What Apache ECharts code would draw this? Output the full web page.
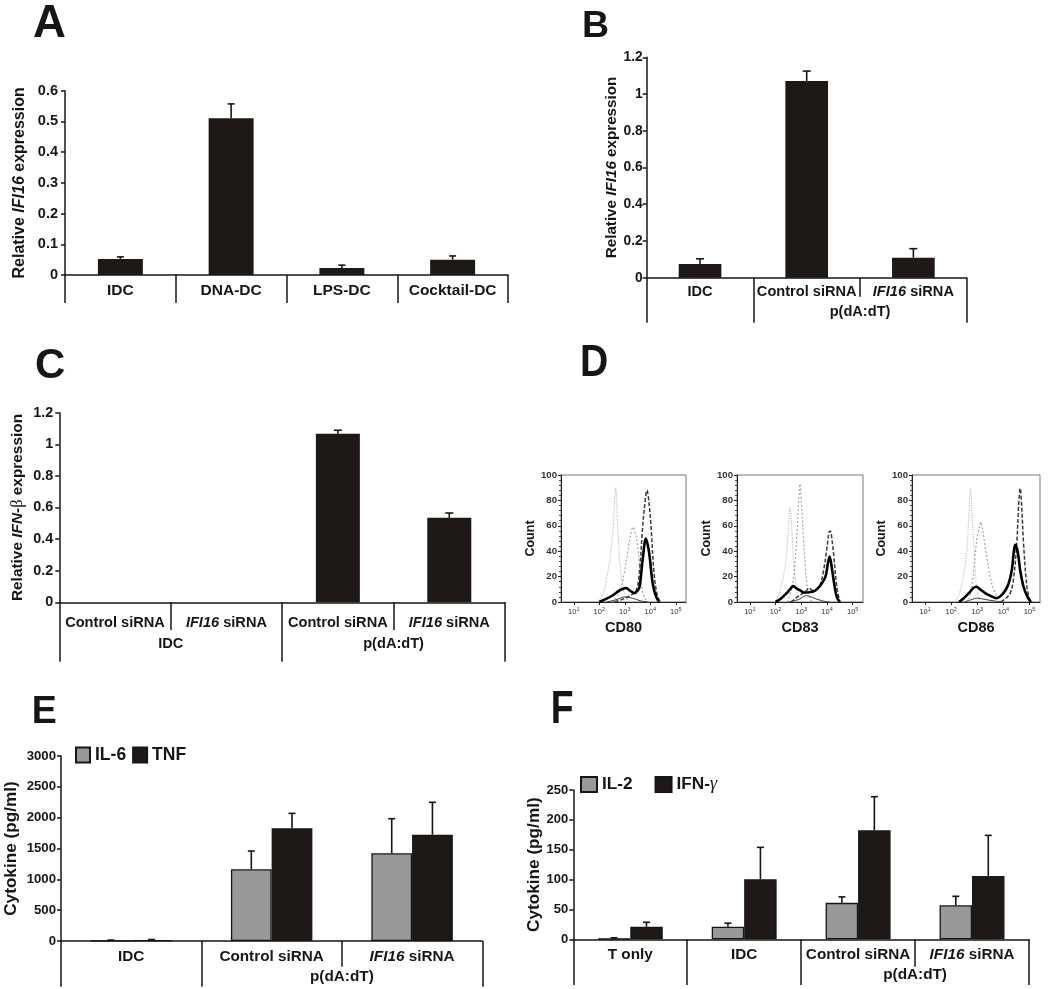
<!DOCTYPE html>
<html><head><meta charset="utf-8">
<script src="https://cdn.jsdelivr.net/npm/echarts@6/dist/echarts.min.js"></script>
<style>html,body{margin:0;padding:0;background:#fff}#c{width:1050px;height:989px}</style>
</head><body><div id="c"></div>
<script>
// ---------------- DATA ----------------
// Panel A
const catsA = ['IDC', 'DNA-DC', 'LPS-DC', 'Cocktail-DC'];
const valsA = [0.052, 0.510, 0.023, 0.050];
const errA  = [0.007, 0.047, 0.009, 0.012];
const yTicksA = [0, 0.1, 0.2, 0.3, 0.4, 0.5, 0.6];

// Panel B
const catsB = ['IDC', 'Control siRNA', 'IFI16 siRNA'];
const valsB = [0.075, 1.071, 0.109];
const errB  = [0.028, 0.054, 0.049];
const yTicksB = [0, 0.2, 0.4, 0.6, 0.8, 1, 1.2];
const groupsB = [{label: 'p(dA:dT)', first: 1, last: 2}];

// Panel C
const catsC = ['Control siRNA', 'IFI16 siRNA', 'Control siRNA', 'IFI16 siRNA'];
const valsC = [0, 0, 1.067, 0.535];
const errC  = [0, 0, 0.022, 0.030];
const yTicksC = [0, 0.2, 0.4, 0.6, 0.8, 1, 1.2];
const groupsC = [{label: 'IDC', first: 0, last: 1}, {label: 'p(dA:dT)', first: 2, last: 3}];

// Panel D (flow histograms, x = log10 fluorescence, y = count)
const decadesD = [1, 2, 3, 4, 5];
const yTicksD = [0, 20, 40, 60, 80, 100];
const cd80Light = [[1.9,0],[2.05,3],[2.2,10],[2.35,25],[2.45,38],[2.55,60],[2.64,90],[2.72,60],[2.8,33],[2.9,15],[3.0,6],[3.15,1],[3.3,0]];
const cd80Gray  = [[2.5,0],[2.7,4],[2.85,11],[3.0,25],[3.12,40],[3.25,55],[3.32,59],[3.42,53],[3.52,42],[3.6,25],[3.7,8],[3.85,1],[4.0,0]];
const cd80Dash  = [[2.6,0],[2.9,2],[3.2,5],[3.45,9],[3.58,25],[3.7,59],[3.8,80],[3.87,88],[3.95,78],[4.03,59],[4.15,22],[4.28,5],[4.4,0]];
const cd80Thick = [[2.0,0],[2.23,2],[2.55,5.5],[2.81,9.4],[2.95,10.5],[3.05,11],[3.2,9],[3.38,7],[3.5,9],[3.58,12],[3.7,33],[3.83,50],[3.93,42],[3.99,33],[4.1,14],[4.23,4],[4.35,0]];
const cd80Thin  = [[2.3,0],[2.7,2],[3.0,4],[3.3,3],[3.6,1],[3.9,0]];

const cd83Light = [[2.0,0],[2.14,7],[2.3,20],[2.4,33],[2.5,58],[2.56,75],[2.63,58],[2.69,33],[2.77,18],[2.85,7],[3.0,0]];
const cd83Gray  = [[2.45,0],[2.65,12],[2.75,30],[2.81,46],[2.9,80],[2.95,93],[3.0,80],[3.1,46],[3.16,28],[3.23,12],[3.35,2],[3.45,0]];
const cd83Dash  = [[2.6,0],[2.85,4],[3.07,7],[3.2,9],[3.3,11],[3.45,9],[3.6,10],[3.74,14],[3.87,25],[4.0,43],[4.08,55],[4.13,56],[4.2,48],[4.26,37],[4.38,12],[4.5,0]];
const cd83Thick = [[2.0,0],[2.2,2.5],[2.46,7.5],[2.6,11],[2.68,12.5],[2.8,11],[2.97,9],[3.1,7.5],[3.23,7.5],[3.4,8],[3.55,9],[3.74,13],[3.94,20],[4.03,30],[4.1,35.7],[4.18,28],[4.26,17],[4.38,4],[4.5,0]];
const cd83Thin  = [[2.5,0],[2.9,2],[3.2,5],[3.5,3],[3.8,1],[4.1,0]];

const cd86Light = [[2.1,0],[2.27,4],[2.4,14],[2.5,24],[2.59,38],[2.67,65],[2.74,89],[2.81,65],[2.88,38],[2.97,12],[3.1,0]];
const cd86Gray  = [[2.55,0],[2.71,4],[2.84,20],[2.93,40],[2.99,50],[3.06,57],[3.13,63],[3.2,57],[3.3,44],[3.49,20],[3.68,7],[3.9,0]];
const cd86Dash  = [[3.9,0],[4.1,3],[4.26,7],[4.38,17],[4.51,46],[4.58,75],[4.64,89.5],[4.7,75],[4.77,46],[4.9,12],[5.03,0]];
const cd86Thick = [[2.3,0],[2.46,2.5],[2.72,8],[2.85,11],[2.97,12],[3.1,10],[3.3,7],[3.49,5],[3.74,3],[4.0,7],[4.19,14],[4.32,25],[4.4,40],[4.45,45],[4.52,42],[4.58,35],[4.64,25],[4.77,12],[4.92,4],[5.05,0]];
const cd86Thin  = [[2.5,0],[2.8,2],[3.0,3],[3.3,2],[3.6,1],[3.9,0]];

// Panel E
const catsE = ['IDC', 'Control siRNA', 'IFI16 siRNA'];
const il6E    = [5, 1163, 1422];
const il6ErrE = [10, 296, 561];
const tnfE    = [10, 1827, 1724];
const tnfErrE = [14, 243, 525];
const yTicksE = [0, 500, 1000, 1500, 2000, 2500, 3000];
const groupsE = [{label: 'p(dA:dT)', first: 1, last: 2}];

// Panel F
const catsF = ['T only', 'IDC', 'Control siRNA', 'IFI16 siRNA'];
const il2F     = [1, 21, 61, 57];
const il2ErrF  = [1.5, 6, 10, 15];
const ifngF    = [21, 100.5, 182.5, 106];
const ifngErrF = [7.5, 53.5, 56.3, 68];
const yTicksF = [0, 50, 100, 150, 200, 250];
const groupsF = [{label: 'p(dA:dT)', first: 2, last: 3}];

// ---------------- BUILD ----------------
const FONT = "'Liberation Sans', Arial, Helvetica, sans-serif";
const SERIF = "'Liberation Serif', 'Times New Roman', serif";
const INK = '#161616';
const BAR_DARK = '#1e1916';
const BAR_GRAY = '#989898';

const option = {animation: false, backgroundColor: '#fff', grid: [], xAxis: [], yAxis: [], series: [], legend: [], graphic: []};

function ital(s) { return s.replace('IFI16', '{i|IFI16}'); }
function plainNum(v) { return String(Math.round(v * 1e6) / 1e6); }

function addBarPanel(p) {
  const gi = option.grid.length;
  option.grid.push({left: p.box[0], top: p.box[1], width: p.box[2], height: p.box[3], containLabel: false, outerBoundsMode: 'none'});
  const N = p.cats.length;
  const xi = option.xAxis.length;
  const catRich = {i: {fontStyle: 'italic', fontWeight: 'bold', fontFamily: FONT, fontSize: p.catFont, color: INK}};
  option.xAxis.push({
    type: 'category', gridIndex: gi, data: p.cats, position: 'bottom',
    axisLine: {show: true, onZero: false, lineStyle: {color: INK, width: 1.5}},
    axisTick: {show: true, alignWithLabel: false, interval: 0, length: p.shortTick, lineStyle: {color: INK, width: 1.5}},
    axisLabel: {interval: 0, margin: p.labelMargin, color: INK, fontFamily: FONT, fontWeight: 'bold', fontSize: p.catFont,
      formatter: ital, rich: catRich},
    splitLine: {show: false}
  });
  const centers = p.groups.map(g => (g.first + g.last + 1) / 2);
  option.xAxis.push({
    type: 'value', gridIndex: gi, min: 0, max: N, position: 'bottom',
    axisLine: {show: false}, splitLine: {show: false},
    axisTick: {show: p.fullTicks.length > 0, length: p.longTick, customValues: p.fullTicks, lineStyle: {color: INK, width: 1.5}},
    axisLabel: {show: centers.length > 0, customValues: centers, margin: p.groupMargin, color: INK, fontFamily: FONT,
      fontWeight: 'bold', fontSize: p.catFont,
      formatter: v => { const k = centers.findIndex(c => Math.abs(c - v) < 1e-6); return k >= 0 ? p.groups[k].label : ''; }}
  });
  const yi = option.yAxis.length;
  const yt = p.yTicks;
  option.yAxis.push({
    type: 'value', gridIndex: gi, min: yt[0], max: yt[yt.length - 1], interval: yt[1] - yt[0],
    name: p.yName, nameLocation: 'middle', nameGap: p.nameGap,
    nameTextStyle: {color: INK, fontFamily: FONT, fontWeight: 'bold', fontSize: p.nameFont,
      rich: {i: {fontStyle: 'italic', fontWeight: 'bold', fontFamily: FONT, fontSize: p.nameFont, color: INK},
             g: {fontStyle: 'normal', fontWeight: 'normal', fontFamily: SERIF, fontSize: p.nameFont + 1, color: INK}}},
    axisLine: {show: true, lineStyle: {color: INK, width: 1.5}},
    axisTick: {show: true, length: 4, lineStyle: {color: INK, width: 1.5}},
    axisLabel: {margin: p.tickMargin, color: INK, fontFamily: FONT, fontWeight: 'bold', fontSize: p.tickFont, formatter: plainNum},
    splitLine: {show: false}
  });
  const nS = p.series.length;
  p.series.forEach(s => {
    option.series.push({type: 'bar', name: s.name, xAxisIndex: xi, yAxisIndex: yi, data: s.values,
      barWidth: p.barWidth, barGap: '0%', z: 2,
      itemStyle: {color: s.color, borderColor: INK, borderWidth: s.border}});
  });
  p.series.forEach((s, k) => {
    const off = nS === 1 ? 0 : (k - (nS - 1) / 2) * p.barFrac;
    const cap = p.cap;
    option.series.push({type: 'custom', xAxisIndex: xi, yAxisIndex: yi, z: 5, silent: true,
      data: s.values.map((v, i) => [i, v, s.errs[i]]),
      renderItem: function (params, api) {
        const i = api.value(0), v = api.value(1), e = api.value(2);
        if (!e) return null;
        const b = api.coord([i, v]);
        const t = api.coord([i, v + e]);
        const band = api.size([1, 0])[0];
        const x = b[0] + off * band;
        const st = {stroke: INK, lineWidth: 1.6};
        return {type: 'group', children: [
          {type: 'line', shape: {x1: x, y1: b[1], x2: x, y2: t[1]}, style: st},
          {type: 'line', shape: {x1: x - cap, y1: t[1], x2: x + cap, y2: t[1]}, style: st}
        ]};
      }});
  });
  return {xi, yi};
}

// Panel A
addBarPanel({box: [65, 90.7, 443, 184.3], cats: catsA, yTicks: yTicksA,
  series: [{name: 'A', values: valsA, errs: errA, color: BAR_DARK, border: 0}],
  barWidth: '40.6%', barFrac: 0.406, cap: 3.5,
  shortTick: 28, longTick: 28, fullTicks: [], groups: [], labelMargin: 8, groupMargin: 0,
  catFont: 15.5, tickFont: 14.5, tickMargin: 7, yName: 'Relative {i|IFI16} expression', nameFont: 16, nameGap: 37});

// Panel B
addBarPanel({box: [646.7, 57.3, 320, 220.4], cats: catsB, yTicks: yTicksB,
  series: [{name: 'B', values: valsB, errs: errB, color: BAR_DARK, border: 0}],
  barWidth: '40%', barFrac: 0.4, cap: 4,
  shortTick: 19, longTick: 45, fullTicks: [0, 1, 3], groups: groupsB, labelMargin: 7, groupMargin: 27,
  catFont: 14.6, tickFont: 13.8, tickMargin: 4, yName: 'Relative {i|IFI16} expression', nameFont: 15.2, nameGap: 27.5});

// Panel C
addBarPanel({box: [59.3, 412.7, 445.7, 189.6], cats: catsC, yTicks: yTicksC,
  series: [{name: 'C', values: valsC, errs: errC, color: BAR_DARK, border: 0}],
  barWidth: '39.5%', barFrac: 0.395, cap: 4,
  shortTick: 27.7, longTick: 59.4, fullTicks: [0, 2, 4], groups: groupsC, labelMargin: 13.5, groupMargin: 34.5,
  catFont: 14.6, tickFont: 14.4, tickMargin: 6, yName: 'Relative {i|IFN}-{g|β} expression', nameFont: 15.4, nameGap: 34});

// Panel E
addBarPanel({box: [61, 756, 421.3, 185], cats: catsE, yTicks: yTicksE,
  series: [{name: 'IL-6', values: il6E, errs: il6ErrE, color: BAR_GRAY, border: 1.3},
           {name: 'TNF', values: tnfE, errs: tnfErrE, color: BAR_DARK, border: 1.3}],
  barWidth: '29%', barFrac: 0.29, cap: 3.5,
  shortTick: 25.7, longTick: 45.7, fullTicks: [0, 1, 3], groups: groupsE, labelMargin: 8, groupMargin: 28.5,
  catFont: 15.3, tickFont: 13.2, tickMargin: 5, yName: 'Cytokine (pg/ml)', nameFont: 17.2, nameGap: 41});

// Panel F
addBarPanel({box: [573.3, 790, 455.7, 149.3], cats: catsF, yTicks: yTicksF,
  series: [{name: 'IL-2', values: il2F, errs: il2ErrF, color: BAR_GRAY, border: 1.3},
           {name: 'IFN-γ', values: ifngF, errs: ifngErrF, color: BAR_DARK, border: 1.3}],
  barWidth: '28.5%', barFrac: 0.285, cap: 3.5,
  shortTick: 27.4, longTick: 45.7, fullTicks: [0, 1, 2, 4], groups: groupsF, labelMargin: 8, groupMargin: 28,
  catFont: 15.3, tickFont: 13, tickMargin: 5, yName: 'Cytokine (pg/ml)', nameFont: 17.2, nameGap: 30.6});

// Legends
option.legend.push({data: ['IL-6', 'TNF'], left: 75, top: 746, orient: 'horizontal', padding: 0,
  itemWidth: 14, itemHeight: 15, itemGap: 6, icon: 'rect',
  textStyle: {color: INK, fontFamily: FONT, fontWeight: 'bold', fontSize: 17.5, lineHeight: 18}});
option.legend.push({data: ['IL-2', 'IFN-γ'], left: 580, top: 775.5, orient: 'horizontal', padding: 0,
  itemWidth: 16, itemHeight: 15, itemGap: 22, icon: 'rect',
  formatter: n => n.replace('γ', '{g|γ}'),
  textStyle: {color: INK, fontFamily: FONT, fontWeight: 'bold', fontSize: 17.2, lineHeight: 18,
    rich: {g: {fontFamily: SERIF, fontStyle: 'italic', fontWeight: 'normal', fontSize: 18, color: INK}}}});

// Histogram panels
function addHist(p) {
  const gi = option.grid.length;
  option.grid.push({left: p.box[0], top: p.box[1], width: p.box[2], height: p.box[3], show: true,
    borderColor: '#777', borderWidth: 1, backgroundColor: 'transparent', containLabel: false, outerBoundsMode: 'none'});
  const xi = option.xAxis.length;
  option.xAxis.push({type: 'value', gridIndex: gi, min: 0.5, max: 5.4,
    name: p.marker, nameLocation: 'middle', nameGap: 18,
    nameTextStyle: {color: INK, fontFamily: FONT, fontWeight: 'bold', fontSize: 14.5},
    axisLine: {show: true, onZero: false, lineStyle: {color: '#222', width: 1}},
    axisTick: {show: true, customValues: decadesD, length: 3, lineStyle: {color: '#222'}},
    axisLabel: {customValues: decadesD, margin: 4, formatter: v => '{b|10}{s|' + v + '}',
      rich: {b: {fontSize: 7.5, color: '#333', fontFamily: FONT, verticalAlign: 'bottom', lineHeight: 10},
             s: {fontSize: 5.5, color: '#333', fontFamily: FONT, verticalAlign: 'top', lineHeight: 10}}},
    splitLine: {show: false}});
  const yi = option.yAxis.length;
  option.yAxis.push({type: 'value', gridIndex: gi, min: yTicksD[0], max: yTicksD[yTicksD.length - 1], interval: yTicksD[1] - yTicksD[0],
    name: 'Count', nameLocation: 'middle', nameGap: 19.5,
    nameTextStyle: {color: INK, fontFamily: FONT, fontWeight: 'bold', fontSize: 12.5},
    axisLine: {show: true, lineStyle: {color: '#222', width: 1}},
    axisTick: {show: true, length: 3, lineStyle: {color: '#222'}},
    minorTick: {show: true, splitNumber: 5, length: 2, lineStyle: {color: '#444'}},
    axisLabel: {margin: 4, color: '#333', fontFamily: FONT, fontWeight: 'bold', fontSize: 9.6},
    splitLine: {show: false}});
  const styles = [
    {color: '#c4c4c4', width: 1.2, type: 'dotted'},
    {color: '#a5a5a5', width: 1.2, type: [2, 2]},
    {color: '#3a3a3a', width: 1.5, type: [4, 2]},
    {color: '#000000', width: 2.6, type: 'solid'},
    {color: '#3a3a3a', width: 1, type: 'solid'}
  ];
  p.curves.forEach((c, k) => {
    option.series.push({type: 'line', xAxisIndex: xi, yAxisIndex: yi, data: c, showSymbol: false, symbol: 'none',
      smooth: 0.35, silent: true, z: k === 3 ? 4 : 3, lineStyle: styles[k]});
  });
}
addHist({box: [561, 475, 125, 127], marker: 'CD80', curves: [cd80Light, cd80Gray, cd80Dash, cd80Thick, cd80Thin]});
addHist({box: [737, 475, 126, 127], marker: 'CD83', curves: [cd83Light, cd83Gray, cd83Dash, cd83Thick, cd83Thin]});
addHist({box: [912, 475, 128, 127], marker: 'CD86', curves: [cd86Light, cd86Gray, cd86Dash, cd86Thick, cd86Thin]});

// Panel letters
const letters = [
  {t: 'A', x: 33, y: 24, size: 47, sx: 0.97},
  {t: 'B', x: 582, y: 26.7, size: 37.5, sx: 1.0},
  {t: 'C', x: 35, y: 366, size: 42, sx: 1.0},
  {t: 'D', x: 580, y: 364, size: 44, sx: 0.89},
  {t: 'E', x: 31.7, y: 712.5, size: 39.5, sx: 0.95},
  {t: 'F', x: 550.7, y: 710, size: 45.5, sx: 0.82}
];
letters.forEach(L => option.graphic.push({type: 'text', x: L.x, y: L.y, scaleX: L.sx, scaleY: 1, z: 10,
  style: {text: L.t, fontFamily: FONT, fontWeight: 'bold', fontSize: L.size, fill: INK, verticalAlign: 'middle', textVerticalAlign: 'middle'}}));

const chart = echarts.init(document.getElementById('c'), null, {renderer: 'canvas'});
chart.setOption(option);
</script>
</body></html>
